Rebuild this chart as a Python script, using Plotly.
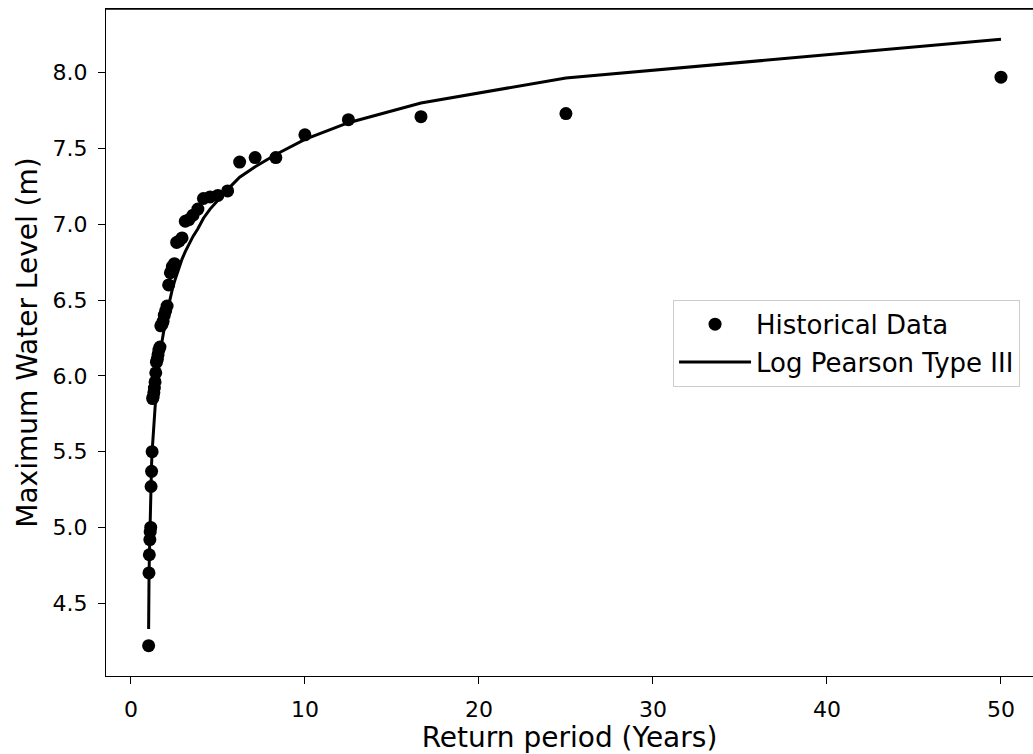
import plotly.graph_objects as go

# Return periods (Weibull plotting positions) for the ranked annual maxima
return_period = [
    50.0, 25.0, 16.67, 12.5, 10.0, 8.33, 7.14, 6.25, 5.56, 5.0,
    4.55, 4.17, 3.85, 3.57, 3.33, 3.125, 2.94, 2.78, 2.63, 2.5,
    2.38, 2.27, 2.17, 2.08, 2.0, 1.92, 1.85, 1.79, 1.72, 1.67,
    1.61, 1.56, 1.52, 1.47, 1.43, 1.39, 1.35, 1.32, 1.28, 1.25,
    1.22, 1.19, 1.16, 1.14, 1.11, 1.09, 1.06, 1.04, 1.02,
]

# Observed annual maximum water levels (m), sorted descending
historical_level = [
    7.97, 7.73, 7.71, 7.69, 7.59, 7.44, 7.44, 7.41, 7.22, 7.19,
    7.18, 7.17, 7.10, 7.06, 7.03, 7.02, 6.91, 6.89, 6.88, 6.74,
    6.72, 6.68, 6.60, 6.46, 6.43, 6.40, 6.36, 6.34, 6.33, 6.19,
    6.17, 6.14, 6.11, 6.09, 6.02, 5.96, 5.92, 5.89, 5.86, 5.85,
    5.50, 5.37, 5.27, 5.00, 4.97, 4.92, 4.82, 4.70, 4.22,
]

# Fitted Log Pearson Type III levels (m) at the same return periods
lp3_level = [
    8.22, 7.965, 7.80, 7.67, 7.56, 7.46, 7.38, 7.31, 7.23, 7.16,
    7.10, 7.04, 6.97, 6.92, 6.87, 6.82, 6.77, 6.72, 6.67, 6.62,
    6.57, 6.52, 6.47, 6.42, 6.37, 6.32, 6.27, 6.23, 6.18, 6.13,
    6.07, 6.02, 5.97, 5.91, 5.85, 5.79, 5.73, 5.67, 5.61, 5.56,
    5.50, 5.42, 5.31, 5.17, 5.04, 4.93, 4.80, 4.63, 4.33,
]

x_ticks = [0, 10, 20, 30, 40, 50]
y_ticks = [4.5, 5.0, 5.5, 6.0, 6.5, 7.0, 7.5, 8.0]

font_family = "DejaVu Sans"
tick_size = 22
title_size = 28
legend_size = 26

fig = go.Figure()
fig.add_trace(go.Scatter(
    x=return_period, y=historical_level, mode="markers",
    name="Historical Data", legendgroup="obs",
    marker=dict(color="black", size=13, line=dict(width=0)),
))
fig.add_trace(go.Scatter(
    x=return_period, y=lp3_level, mode="lines",
    name="Log Pearson Type III", legendgroup="fit",
    line=dict(color="black", width=3),
))

axis_common = dict(
    showgrid=False, zeroline=False,
    showline=True, linecolor="black", linewidth=1.3,
    ticks="outside", ticklen=7, tickwidth=1.3, tickcolor="black",
    tickfont=dict(family=font_family, size=tick_size, color="black"),
)

fig.update_layout(
    width=1033, height=754,
    margin=dict(l=106, r=0, t=9, b=78),
    paper_bgcolor="white", plot_bgcolor="white",
    font=dict(family=font_family, color="black"),
    showlegend=True,
    legend=dict(
        x=0.6117, y=0.564, xanchor="left", yanchor="top",
        bgcolor="white", bordercolor="#cccccc", borderwidth=1,
        font=dict(family=font_family, size=legend_size, color="black"),
        itemwidth=72, tracegroupgap=1,
    ),
    xaxis=dict(
        range=[-1.43, 51.84], tickvals=x_ticks, mirror=True,
        ticklabelstandoff=6,
        title=dict(text="Return period (Years)", standoff=8,
                   font=dict(family=font_family, size=title_size, color="black")),
        **axis_common,
    ),
    yaxis=dict(
        range=[4.02, 8.42], tickvals=y_ticks, tickformat=".1f", mirror=False,
        ticklabelstandoff=6,
        title=dict(text="Maximum Water Level (m)", standoff=6,
                   font=dict(family=font_family, size=title_size, color="black")),
        **axis_common,
    ),
)

# Top border of the axes box
fig.add_shape(type="line", xref="paper", yref="paper", x0=0, x1=1, y0=1, y1=1,
              line=dict(color="black", width=1.3))

fig.write_html("out.html")
